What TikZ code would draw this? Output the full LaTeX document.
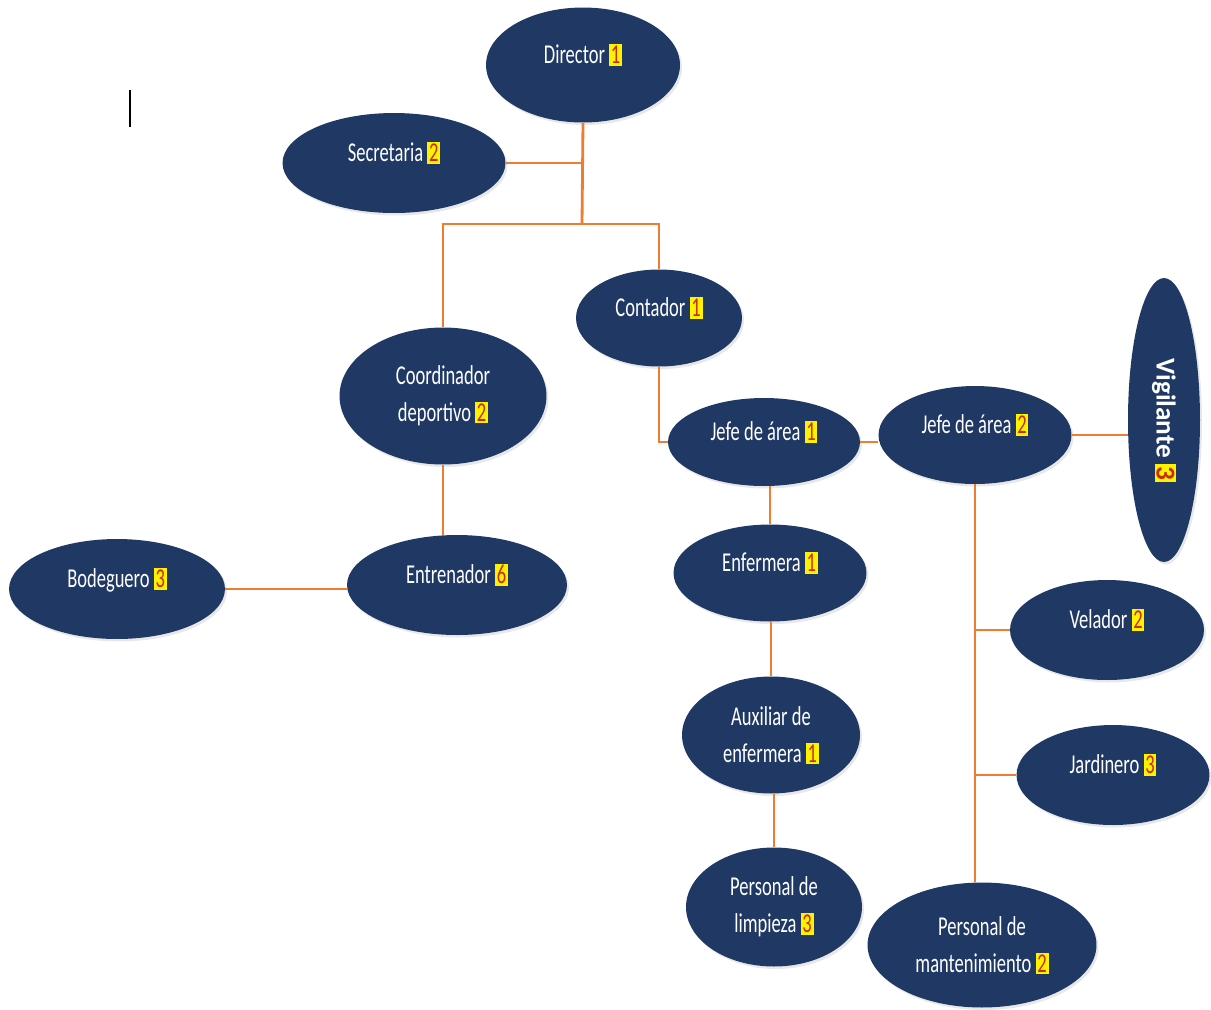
\documentclass[tikz,border=0pt]{standalone}
\usepackage{fontspec}
\setmainfont{Carlito}[FakeStretch=0.68]
\newfontfamily\vertical{Carlito}
\usetikzlibrary{shapes.geometric,shadows}
\definecolor{navy}{RGB}{31,56,100}
\definecolor{naranja}{RGB}{237,125,49}
\definecolor{rojo}{RGB}{200,45,20}
\newcommand{\cant}[1]{{\setlength{\fboxsep}{1pt}\colorbox{yellow}{\textcolor{rojo}{#1}}}}

\begin{document}
\begin{tikzpicture}[x=0.02cm,y=-0.02cm,
    puesto/.style={ellipse,fill=navy,text=white,inner sep=0pt,align=center,
      font=\fontsize{15.5}{21}\selectfont,
      drop shadow={opacity=0.18,shadow xshift=0.04cm,shadow yshift=-0.05cm}},
    unalinea/.style={text height=0.4cm,text depth=0.45cm},
    linea/.style={draw=naranja,line width=1.6pt}]
  \useasboundingbox (0,0) rectangle (1211,1009);
  % puestos
  \node[puesto,unalinea,minimum width=3.88cm,minimum height=2.30cm] (dir) at (583,65) {Director \cant{1}};
  \node[puesto,unalinea,minimum width=4.46cm,minimum height=2.00cm] (sec) at (394,163) {Secretaria \cant{2}};
  \node[puesto,unalinea,minimum width=3.32cm,minimum height=1.94cm] (cont) at (659,318) {Contador \cant{1}};
  \node[puesto,minimum width=4.14cm,minimum height=2.74cm] (coord) at (443,396) {Coordinador\\deportivo \cant{2}};
  \node[puesto,unalinea,minimum width=3.84cm,minimum height=1.76cm] (jefeA) at (764,442) {Jefe de área \cant{1}};
  \node[puesto,unalinea,minimum width=3.86cm,minimum height=1.96cm] (jefeB) at (975,435) {Jefe de área \cant{2}};
  \node[puesto,rotate=-90,minimum width=5.68cm,minimum height=1.44cm,
    font=\vertical\fontsize{15.5}{21}\selectfont\bfseries] (vig) at (1164,420) {Vigilante \cant{3}};
  \node[puesto,unalinea,minimum width=3.86cm,minimum height=1.94cm] (enf) at (770,573) {Enfermera \cant{1}};
  \node[puesto,minimum width=3.56cm,minimum height=2.34cm] (aux) at (771,735) {Auxiliar de\\enfermera \cant{1}};
  \node[puesto,minimum width=3.52cm,minimum height=2.38cm] (limp) at (774,907) {Personal de\\limpieza \cant{3}};
  \node[puesto,unalinea,minimum width=3.88cm,minimum height=2.00cm] (vel) at (1107,630) {Velador \cant{2}};
  \node[puesto,unalinea,minimum width=3.86cm,minimum height=2.00cm] (jard) at (1113,775) {Jardinero \cant{3}};
  \node[puesto,minimum width=4.58cm,minimum height=2.50cm] (mant) at (982,945) {Personal de\\mantenimiento \cant{2}};
  \node[puesto,unalinea,minimum width=4.40cm,minimum height=2.00cm] (entr) at (457,585) {Entrenador \cant{6}};
  \node[puesto,unalinea,minimum width=4.32cm,minimum height=2.00cm] (bod) at (117,589) {Bodeguero \cant{3}};
  \coordinate (nudo) at (582,224);
  % lineas
  \draw[linea] (dir.south) -- (nudo);
  \draw[linea] (sec.east) -- (sec.east -| nudo);
  \draw[linea] (coord.north) |- (nudo) -| (cont.north);
  \draw[linea] (cont.south) |- (jefeA.west);
  \draw[linea] (jefeA.east) -- (jefeA.east -| jefeB.west);
  \draw[linea] (jefeB.east) -- (jefeB.east -| vig.south);
  \draw[linea] (enf.north) -- (enf.north |- jefeA.south);
  \draw[linea] (aux.north) -- (aux.north |- enf.south);
  \draw[linea] (limp.north) -- (limp.north |- aux.south);
  \draw[linea] (coord.south) -- (coord.south |- entr.north);
  \draw[linea] (bod.east) -- (bod.east -| entr.west);
  \draw[linea] (jefeB.south) -- (jefeB.south |- mant.north);
  \draw[linea] (vel.west) -- (vel.west -| jefeB.south);
  \draw[linea] (jard.west) -- (jard.west -| jefeB.south);
  \draw[black,line width=0.8pt] (130,90) -- (130,127);
\end{tikzpicture}
\end{document}
